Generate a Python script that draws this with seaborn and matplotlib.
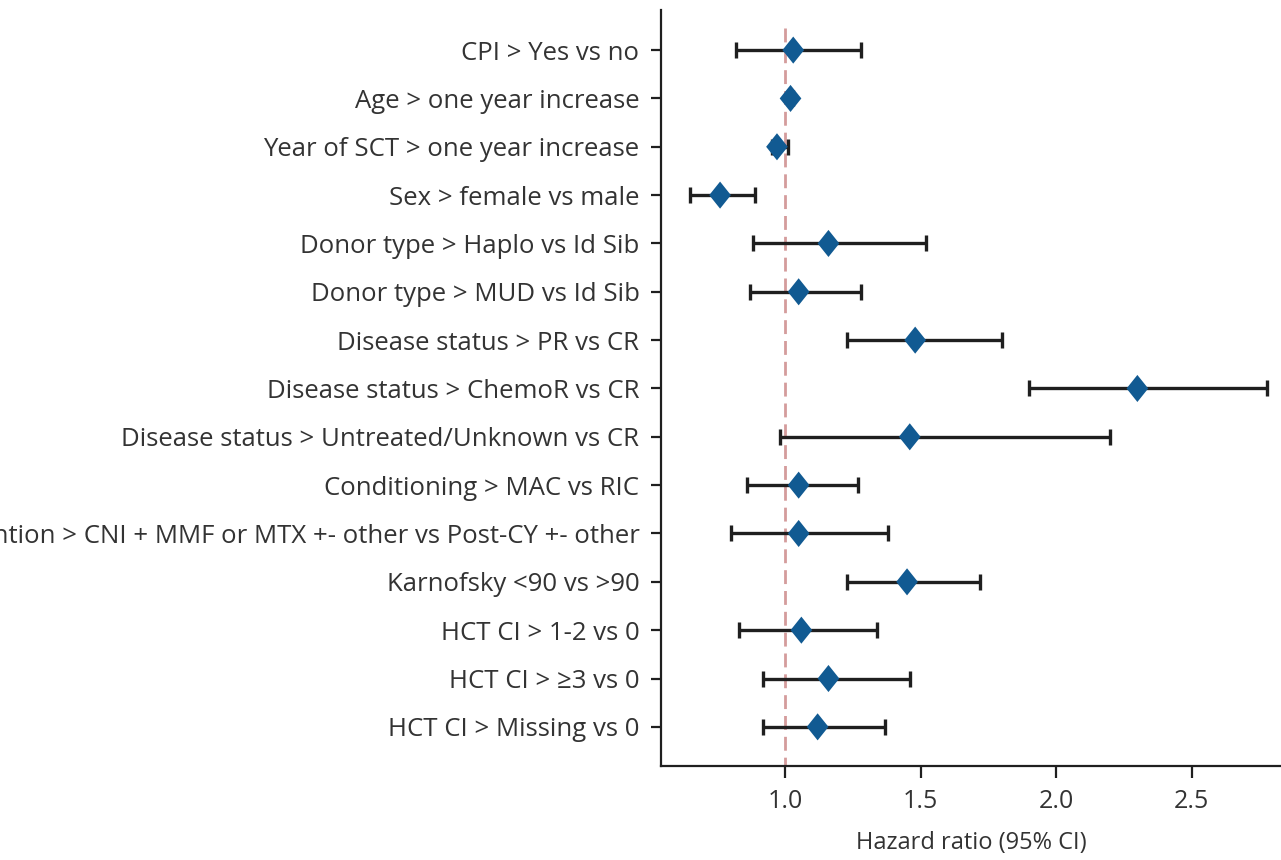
import numpy as np
import pandas as pd
import matplotlib
matplotlib.use("Agg")
import matplotlib.pyplot as plt
import seaborn as sns

# Multivariable model: hazard ratios with 95% confidence intervals
labels = [
    "CPI > Yes vs no",
    "Age > one year increase",
    "Year of SCT > one year increase",
    "Sex > female vs male",
    "Donor type > Haplo vs Id Sib",
    "Donor type > MUD vs Id Sib",
    "Disease status > PR vs CR",
    "Disease status > ChemoR vs CR",
    "Disease status > Untreated/Unknown vs CR",
    "Conditioning > MAC vs RIC",
    "GVHD prevention > CNI + MMF or MTX +- other vs Post-CY +- other",
    "Karnofsky <90 vs >90",
    "HCT CI > 1-2 vs 0",
    "HCT CI > \u22653 vs 0",
    "HCT CI > Missing vs 0",
]
hr = [1.03, 1.02, 0.97, 0.76, 1.16, 1.05, 1.48, 2.30, 1.46, 1.05, 1.05, 1.45, 1.06, 1.16, 1.12]
ci_low = [0.82, 1.01, 0.95, 0.65, 0.88, 0.87, 1.23, 1.90, 0.98, 0.86, 0.80, 1.23, 0.83, 0.92, 0.92]
ci_high = [1.28, 1.03, 1.01, 0.89, 1.52, 1.28, 1.80, 2.78, 2.20, 1.27, 1.38, 1.72, 1.34, 1.46, 1.37]
xticks = [1.0, 1.5, 2.0, 2.5]

df = pd.DataFrame({"label": labels, "hr": hr, "lo": ci_low, "hi": ci_high})
df["pos"] = np.arange(len(df))

sns.set_theme(style="ticks")
plt.rcParams["font.family"] = ["Open Sans", "DejaVu Sans"]

text_color = "#333333"
fig = plt.figure(figsize=(12.81, 8.60), dpi=100)
ax = fig.add_axes([0.516, 0.1093, 0.484, 0.8791])

# reference line at HR = 1
ax.vlines(1.0, -0.45, 15.5, colors="#d49c9c", linestyles=(0, (5, 2.5)), linewidth=2.0, zorder=1)

# confidence intervals
ax.errorbar(df["hr"], df["pos"],
            xerr=[df["hr"] - df["lo"], df["hi"] - df["hr"]],
            fmt="none", ecolor="#1f1f1f", elinewidth=2.4, capsize=5.5, capthick=2.4, zorder=2)

# point estimates
diamond = [(0, 1), (0.8, 0), (0, -1), (-0.8, 0), (0, 1)]
sns.scatterplot(data=df, x="hr", y="pos", marker=diamond, s=380, color="#115a92",
                edgecolor="none", linewidth=0, ax=ax, zorder=3, legend=False)

ax.set_xlim(0.542, 2.83)
ax.set_ylim(14.81, -0.83)
ax.set_yticks(df["pos"])
ax.set_yticklabels(df["label"])
ax.set_xticks(xticks)
ax.set_xticklabels([f"{t:.1f}" for t in xticks])
ax.set_xlabel("Hazard ratio (95% CI)", fontsize=17, color=text_color, labelpad=12)
ax.set_ylabel("")

ax.tick_params(axis="y", labelsize=18.5, length=7.5, width=1.6, pad=8, colors="#1f1f1f", labelcolor=text_color)
ax.tick_params(axis="x", labelsize=18, length=8.5, width=1.6, pad=8, colors="#1f1f1f", labelcolor=text_color)
for side in ["top", "right"]:
    ax.spines[side].set_visible(False)
for side in ["left", "bottom"]:
    ax.spines[side].set_linewidth(1.6)
    ax.spines[side].set_color("#1f1f1f")

fig.savefig("out.png", dpi=100)
